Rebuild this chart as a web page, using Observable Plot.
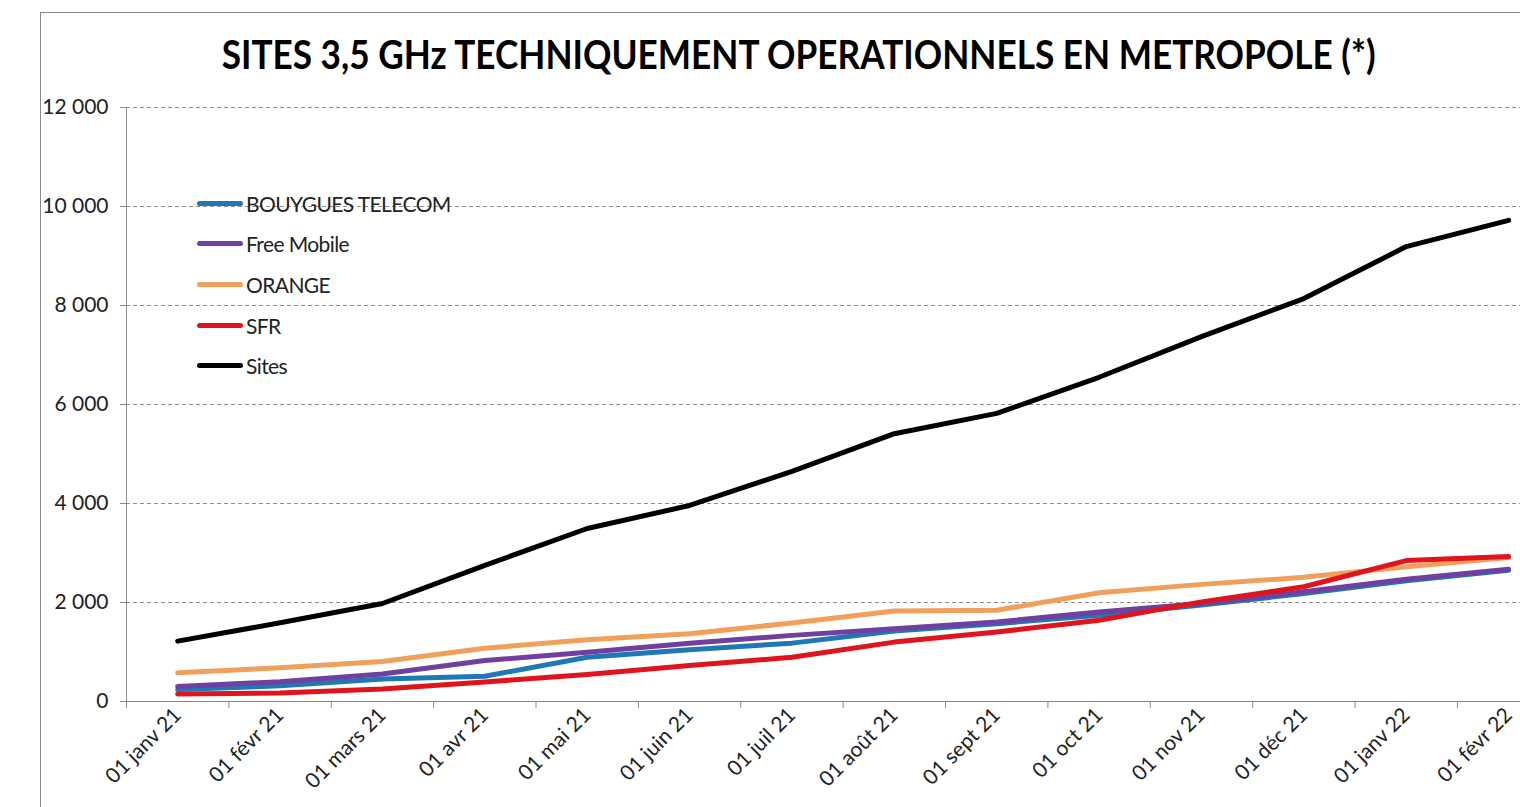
<!DOCTYPE html>
<html>
<head>
<meta charset="utf-8">
<script src="https://cdn.jsdelivr.net/npm/d3@7"></script>
<script src="https://cdn.jsdelivr.net/npm/@observablehq/plot@0.6"></script>
<style>
  html, body { margin: 0; padding: 0; background: #fff; overflow: hidden; }
  #wrap { position: relative; width: 1520px; height: 807px; overflow: hidden; font-family: Lato, sans-serif; color: #222; }
  #frame { position: absolute; left: 40px; top: 12px; width: 1600px; height: 900px; border-top: 1px solid #8a8a8a; border-left: 1px solid #8a8a8a; }
  #title { position: absolute; left: -1px; width: 1600px; top: 30px; text-align: center; white-space: nowrap; }
  #title span { display: inline-block; font-weight: 700; font-size: 40px; color: #000; transform-origin: 50% 50%; }
  #chart { position: absolute; left: 0; top: 90px; }
  #legend { position: absolute; left: 197px; top: 190px; }
  .row { position: absolute; left: 0; height: 26px; display: flex; align-items: center; white-space: nowrap; font-size: 21px; letter-spacing: -0.6px; color: #222; }
  .row .sw { width: 46px; height: 5px; border-radius: 3px; margin-right: 3px; }
</style>
</head>
<body>
<div id="wrap">
  <div id="frame"></div>
  <div id="title"><span id="titleText"></span></div>
  <div id="chart"></div>
  <div id="legend"></div>
</div>
<script>
const titleText = "SITES 3,5 GHz TECHNIQUEMENT OPERATIONNELS EN METROPOLE (*)";
const months = ["01 janv 21", "01 févr 21", "01 mars 21", "01 avr 21", "01 mai 21", "01 juin 21", "01 juil 21",
                "01 août 21", "01 sept 21", "01 oct 21", "01 nov 21", "01 déc 21", "01 janv 22", "01 févr 22"];
const seriesNames = ["BOUYGUES TELECOM", "Free Mobile", "ORANGE", "SFR", "Sites"];
const seriesColors = ["#1f77b4", "#7040a0", "#f0a05a", "#e0141c", "#000000"];
const bouygues = [240, 319, 455, 510, 895, 1045, 1179, 1423, 1573, 1742, 1950, 2180, 2440, 2650];
const freeMobile = [305, 400, 557, 827, 996, 1179, 1336, 1472, 1606, 1810, 1980, 2216, 2468, 2671];
const orange = [580, 680, 807, 1075, 1248, 1370, 1586, 1830, 1844, 2196, 2366, 2508, 2724, 2907];
const sfr = [150, 171, 252, 395, 545, 726, 895, 1200, 1403, 1640, 2013, 2318, 2846, 2928];
const sites = [1220, 1590, 1980, 2750, 3495, 3960, 4650, 5410, 5820, 6550, 7370, 8140, 9190, 9720];
const yTicks = [0, 2000, 4000, 6000, 8000, 10000, 12000];

const seriesValues = [bouygues, freeMobile, orange, sfr, sites];
const data = seriesNames.flatMap((s, k) => seriesValues[k].map((v, i) => ({series: s, i, v})));
const idx = months.map((_, i) => i);
const bounds = d3.range(months.length + 1).map(i => i - 0.5);
const fmt = v => d3.format(",")(v).replace(/,/g, "\u00a0");

const chart = Plot.plot({
  width: 1520,
  height: 717,
  marginTop: 17,
  marginBottom: 106,
  marginLeft: 126,
  marginRight: 0,
  x: {type: "linear", domain: [-0.5, months.length - 0.5], range: [126, 1559.3]},
  y: {domain: [0, 12000]},
  color: {domain: seriesNames, range: seriesColors},
  style: {fontFamily: "Lato, sans-serif", fontSize: "21px", color: "#222", background: "transparent", overflow: "hidden"},
  marks: [
    Plot.gridY(yTicks.filter(d => d > 0), {stroke: "#8f8f8f", strokeOpacity: 1, strokeDasharray: "4,3"}),
    Plot.ruleX([-0.5], {stroke: "#8a8a8a"}),
    Plot.ruleY([0], {stroke: "#8a8a8a"}),
    Plot.axisY({ticks: yTicks, label: null, tickSize: 6, tickPadding: 12, tickFormat: fmt, stroke: "#8a8a8a", fill: "#222", fontSize: 21}),
    Plot.axisX({ticks: bounds, label: null, tickSize: 7, tickFormat: () => "", stroke: "#8a8a8a"}),
    Plot.axisX({ticks: idx, label: null, tickSize: 0, tickPadding: 10, tickRotate: -45, tickFormat: i => months[i], fill: "#222", fontSize: 21}),
    Plot.line(data, {x: "i", y: "v", z: "series", stroke: "series", strokeWidth: 5,
                     strokeLinejoin: "round", strokeLinecap: "round"})
  ]
});
document.getElementById("chart").appendChild(chart);

// title
const t = document.getElementById("titleText");
t.textContent = titleText;
const w = t.getBoundingClientRect().width;
t.style.transform = `scaleX(${1154 / w})`;

// legend
const legend = document.getElementById("legend");
const rowCenters = [203, 243, 284, 325, 365];
seriesNames.forEach((s, k) => {
  const row = document.createElement("div");
  row.className = "row";
  row.style.top = (rowCenters[k] - 190 - 13) + "px";
  const sw = document.createElement("span");
  sw.className = "sw";
  sw.style.background = seriesColors[k];
  const tx = document.createElement("span");
  tx.textContent = s;
  row.appendChild(sw);
  row.appendChild(tx);
  legend.appendChild(row);
});
</script>
</body>
</html>
